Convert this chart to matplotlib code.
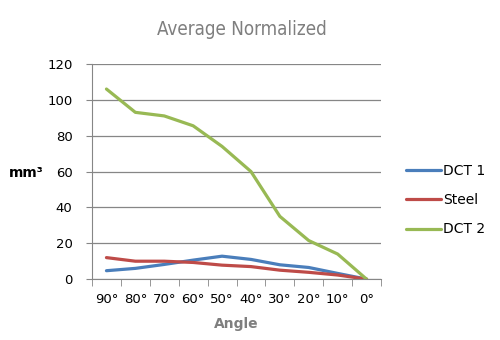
import matplotlib.pyplot as plt
import numpy as np

angles = ['90°', '80°', '70°', '60°', '50°', '40°', '30°', '20°', '10°', '0°']
dct1 = [4.7, 6.0, 8.2, 10.6, 12.8, 11.0, 8.0, 6.5, 3.2, 0.0]
steel = [12.0, 10.0, 10.0, 9.3, 7.8, 7.0, 5.0, 3.8, 2.3, 0.0]
dct2 = [106.0, 93.0, 91.0, 85.5, 74.0, 60.0, 35.0, 21.5, 14.0, 0.0]

fig = plt.figure(figsize=(5, 3.4), dpi=100)
ax = fig.add_axes([0.184, 0.179, 0.578, 0.633])

x = np.arange(len(angles))
ax.plot(x, dct1, color='#4A7EBB', lw=2.3, label='DCT 1', solid_capstyle='round')
ax.plot(x, steel, color='#BE4B48', lw=2.3, label='Steel', solid_capstyle='round')
ax.plot(x, dct2, color='#98B954', lw=2.3, label='DCT 2', solid_capstyle='round')

ax.set_xlim(-0.5, len(angles) - 0.5)
ax.set_ylim(0, 120)
ax.set_yticks(range(0, 121, 20))
ax.set_xticks(x)
ax.set_xticklabels(angles, fontsize=9.5)
ax.set_xticks(np.arange(-0.5, len(angles), 1), minor=True)
ax.tick_params(axis='x', which='major', length=0, pad=10)
ax.tick_params(axis='x', which='minor', length=5, color='#868686')
ax.tick_params(axis='y', length=4, color='#868686', labelsize=9.5, pad=10)
ax.grid(axis='y', color='#868686', lw=0.9)
ax.set_axisbelow(True)
for side in ['top', 'right']:
    ax.spines[side].set_visible(False)
for side in ['left', 'bottom']:
    ax.spines[side].set_color('#868686')

fig.text(0.483, 0.912, 'Average Normalized', fontsize=13.5, color='#7F7F7F',
         ha='center', va='center', family='DejaVu Sans', stretch='condensed')
fig.text(0.053, 0.491, 'mm³', fontsize=10, fontweight='bold', ha='center', va='center')
ax.set_xlabel('Angle', fontsize=10, fontweight='bold', color='#7F7F7F', labelpad=8)

ax.legend(loc='center left', bbox_to_anchor=(1.087, 0.367), frameon=False,
          fontsize=10, handlelength=2.5, handletextpad=0.15, labelspacing=1.1,
          borderaxespad=0, borderpad=0)

fig.savefig('out.png', dpi=100)
